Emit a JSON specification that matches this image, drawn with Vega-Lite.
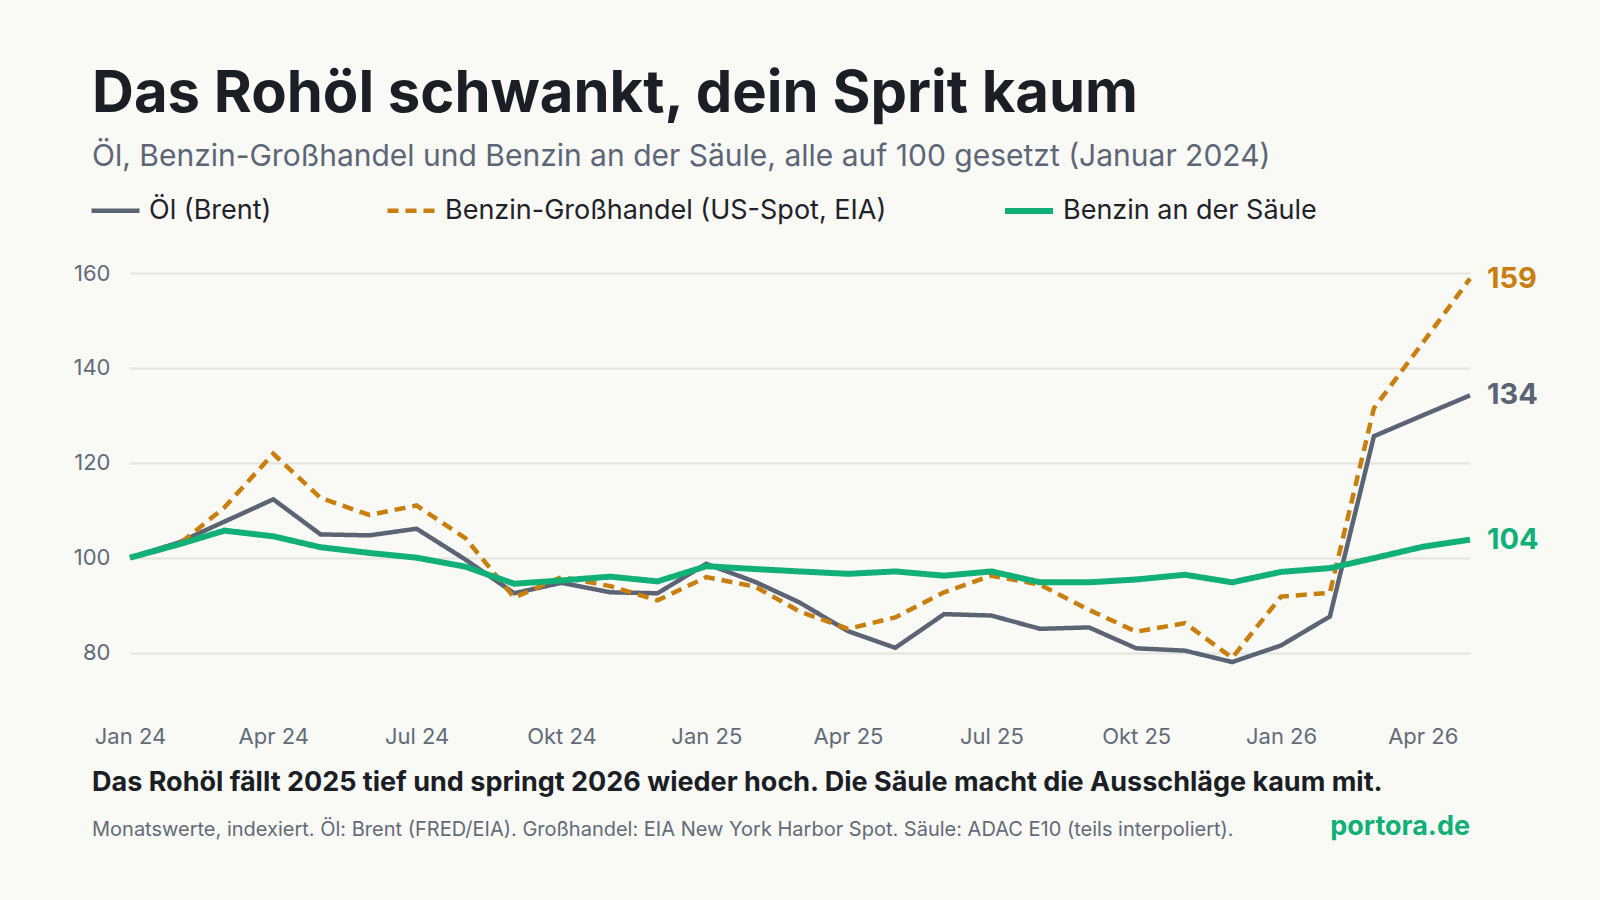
{
  "$schema": "https://vega.github.io/schema/vega-lite/v6.json",
  "autosize": {"type": "none"},
  "width": 1340,
  "height": 427,
  "padding": {"left": 130, "top": 273, "right": 130, "bottom": 200},
  "background": "#f9f9f6",
  "title": {
    "text": "Das Rohöl schwankt, dein Sprit kaum",
    "subtitle": "Öl, Benzin-Großhandel und Benzin an der Säule, alle auf 100 gesetzt (Januar 2024)",
    "anchor": "start",
    "frame": "group",
    "dx": -38,
    "offset": 12,
    "font": "Inter",
    "fontSize": 58,
    "fontWeight": "bold",
    "color": "#1b1e24",
    "subtitleFont": "Inter",
    "subtitleFontSize": 30,
    "subtitleColor": "#5d6677",
    "subtitlePadding": 18
  },
  "config": {
    "view": {"stroke": null},
    "font": "Inter"
  },
  "data": {
    "values": [
      {"date": "2024-01-01", "series": "Öl (Brent)", "value": 100},
      {"date": "2024-02-01", "series": "Öl (Brent)", "value": 103.2},
      {"date": "2024-03-01", "series": "Öl (Brent)", "value": 107.6},
      {"date": "2024-04-01", "series": "Öl (Brent)", "value": 112.3},
      {"date": "2024-05-01", "series": "Öl (Brent)", "value": 104.9},
      {"date": "2024-06-01", "series": "Öl (Brent)", "value": 104.7},
      {"date": "2024-07-01", "series": "Öl (Brent)", "value": 106.1},
      {"date": "2024-08-01", "series": "Öl (Brent)", "value": 99.6},
      {"date": "2024-09-01", "series": "Öl (Brent)", "value": 92.5},
      {"date": "2024-10-01", "series": "Öl (Brent)", "value": 94.7},
      {"date": "2024-11-01", "series": "Öl (Brent)", "value": 92.7},
      {"date": "2024-12-01", "series": "Öl (Brent)", "value": 92.5},
      {"date": "2025-01-01", "series": "Öl (Brent)", "value": 98.7},
      {"date": "2025-02-01", "series": "Öl (Brent)", "value": 94.9},
      {"date": "2025-03-01", "series": "Öl (Brent)", "value": 90.6},
      {"date": "2025-04-01", "series": "Öl (Brent)", "value": 84.5},
      {"date": "2025-05-01", "series": "Öl (Brent)", "value": 81.0},
      {"date": "2025-06-01", "series": "Öl (Brent)", "value": 88.1},
      {"date": "2025-07-01", "series": "Öl (Brent)", "value": 87.8},
      {"date": "2025-08-01", "series": "Öl (Brent)", "value": 85.0},
      {"date": "2025-09-01", "series": "Öl (Brent)", "value": 85.3},
      {"date": "2025-10-01", "series": "Öl (Brent)", "value": 80.9},
      {"date": "2025-11-01", "series": "Öl (Brent)", "value": 80.4},
      {"date": "2025-12-01", "series": "Öl (Brent)", "value": 78.0},
      {"date": "2026-01-01", "series": "Öl (Brent)", "value": 81.5},
      {"date": "2026-02-01", "series": "Öl (Brent)", "value": 87.6},
      {"date": "2026-03-01", "series": "Öl (Brent)", "value": 125.6},
      {"date": "2026-04-01", "series": "Öl (Brent)", "value": 130.0},
      {"date": "2026-05-01", "series": "Öl (Brent)", "value": 134.2},
      {"date": "2024-01-01", "series": "Benzin-Großhandel (US-Spot, EIA)", "value": 100},
      {"date": "2024-02-01", "series": "Benzin-Großhandel (US-Spot, EIA)", "value": 102.8},
      {"date": "2024-03-01", "series": "Benzin-Großhandel (US-Spot, EIA)", "value": 110.6},
      {"date": "2024-04-01", "series": "Benzin-Großhandel (US-Spot, EIA)", "value": 121.9},
      {"date": "2024-05-01", "series": "Benzin-Großhandel (US-Spot, EIA)", "value": 112.6},
      {"date": "2024-06-01", "series": "Benzin-Großhandel (US-Spot, EIA)", "value": 109.0},
      {"date": "2024-07-01", "series": "Benzin-Großhandel (US-Spot, EIA)", "value": 111.0},
      {"date": "2024-08-01", "series": "Benzin-Großhandel (US-Spot, EIA)", "value": 104.1},
      {"date": "2024-09-01", "series": "Benzin-Großhandel (US-Spot, EIA)", "value": 91.6},
      {"date": "2024-10-01", "series": "Benzin-Großhandel (US-Spot, EIA)", "value": 95.9},
      {"date": "2024-11-01", "series": "Benzin-Großhandel (US-Spot, EIA)", "value": 94.0},
      {"date": "2024-12-01", "series": "Benzin-Großhandel (US-Spot, EIA)", "value": 91.0},
      {"date": "2025-01-01", "series": "Benzin-Großhandel (US-Spot, EIA)", "value": 95.9},
      {"date": "2025-02-01", "series": "Benzin-Großhandel (US-Spot, EIA)", "value": 93.9},
      {"date": "2025-03-01", "series": "Benzin-Großhandel (US-Spot, EIA)", "value": 88.7},
      {"date": "2025-04-01", "series": "Benzin-Großhandel (US-Spot, EIA)", "value": 85.0},
      {"date": "2025-05-01", "series": "Benzin-Großhandel (US-Spot, EIA)", "value": 87.4},
      {"date": "2025-06-01", "series": "Benzin-Großhandel (US-Spot, EIA)", "value": 92.7},
      {"date": "2025-07-01", "series": "Benzin-Großhandel (US-Spot, EIA)", "value": 96.2},
      {"date": "2025-08-01", "series": "Benzin-Großhandel (US-Spot, EIA)", "value": 94.3},
      {"date": "2025-09-01", "series": "Benzin-Großhandel (US-Spot, EIA)", "value": 89.0},
      {"date": "2025-10-01", "series": "Benzin-Großhandel (US-Spot, EIA)", "value": 84.4},
      {"date": "2025-11-01", "series": "Benzin-Großhandel (US-Spot, EIA)", "value": 86.2},
      {"date": "2025-12-01", "series": "Benzin-Großhandel (US-Spot, EIA)", "value": 78.9},
      {"date": "2026-01-01", "series": "Benzin-Großhandel (US-Spot, EIA)", "value": 91.8},
      {"date": "2026-02-01", "series": "Benzin-Großhandel (US-Spot, EIA)", "value": 92.6},
      {"date": "2026-03-01", "series": "Benzin-Großhandel (US-Spot, EIA)", "value": 131.5},
      {"date": "2026-04-01", "series": "Benzin-Großhandel (US-Spot, EIA)", "value": 145.3},
      {"date": "2026-05-01", "series": "Benzin-Großhandel (US-Spot, EIA)", "value": 158.8},
      {"date": "2024-01-01", "series": "Benzin an der Säule", "value": 100},
      {"date": "2024-02-01", "series": "Benzin an der Säule", "value": 102.8},
      {"date": "2024-03-01", "series": "Benzin an der Säule", "value": 105.7},
      {"date": "2024-04-01", "series": "Benzin an der Säule", "value": 104.5},
      {"date": "2024-05-01", "series": "Benzin an der Säule", "value": 102.2},
      {"date": "2024-06-01", "series": "Benzin an der Säule", "value": 101.0},
      {"date": "2024-07-01", "series": "Benzin an der Säule", "value": 100.0},
      {"date": "2024-08-01", "series": "Benzin an der Säule", "value": 98.1},
      {"date": "2024-09-01", "series": "Benzin an der Säule", "value": 94.5},
      {"date": "2024-10-01", "series": "Benzin an der Säule", "value": 95.2},
      {"date": "2024-11-01", "series": "Benzin an der Säule", "value": 96.0},
      {"date": "2024-12-01", "series": "Benzin an der Säule", "value": 95.0},
      {"date": "2025-01-01", "series": "Benzin an der Säule", "value": 98.2},
      {"date": "2025-02-01", "series": "Benzin an der Säule", "value": 97.6},
      {"date": "2025-03-01", "series": "Benzin an der Säule", "value": 97.1},
      {"date": "2025-04-01", "series": "Benzin an der Säule", "value": 96.6},
      {"date": "2025-05-01", "series": "Benzin an der Säule", "value": 97.1},
      {"date": "2025-06-01", "series": "Benzin an der Säule", "value": 96.2},
      {"date": "2025-07-01", "series": "Benzin an der Säule", "value": 97.1},
      {"date": "2025-08-01", "series": "Benzin an der Säule", "value": 94.8},
      {"date": "2025-09-01", "series": "Benzin an der Säule", "value": 94.8},
      {"date": "2025-10-01", "series": "Benzin an der Säule", "value": 95.4},
      {"date": "2025-11-01", "series": "Benzin an der Säule", "value": 96.4},
      {"date": "2025-12-01", "series": "Benzin an der Säule", "value": 94.8},
      {"date": "2026-01-01", "series": "Benzin an der Säule", "value": 97.0},
      {"date": "2026-02-01", "series": "Benzin an der Säule", "value": 97.8},
      {"date": "2026-03-01", "series": "Benzin an der Säule", "value": 99.9},
      {"date": "2026-04-01", "series": "Benzin an der Säule", "value": 102.3},
      {"date": "2026-05-01", "series": "Benzin an der Säule", "value": 103.8}
    ]
  },
  "layer": [
    {
      "mark": {"type": "line", "strokeJoin": "miter"},
      "encoding": {
        "x": {
          "field": "date",
          "type": "temporal",
          "scale": {"type": "utc", "nice": false, "domain": [{"year": 2024, "month": 1, "date": 1, "utc": true}, {"year": 2026, "month": 5, "date": 1, "utc": true}]},
          "axis": {
            "title": null,
            "grid": false,
            "domain": false,
            "ticks": false,
            "tickSize": 0,
            "labelFlush": false,
            "labelPadding": 26,
            "labelFont": "Inter",
            "labelFontSize": 22,
            "labelColor": "#636b78",
            "tickCount": {"interval": "month", "step": 3},
            "labelExpr": "['Jan','Feb','Mär','Apr','Mai','Jun','Jul','Aug','Sep','Okt','Nov','Dez'][utcmonth(datum.value)] + ' ' + utcFormat(datum.value, '%y')"
          }
        },
        "y": {
          "field": "value",
          "type": "quantitative",
          "scale": {"domain": [70, 160], "nice": false, "zero": false},
          "axis": {
            "title": null,
            "values": [80, 100, 120, 140, 160],
            "grid": true,
            "gridColor": "#e4e4df",
            "gridWidth": 2,
            "domain": false,
            "ticks": false,
            "tickSize": 0,
            "labelPadding": 20,
            "labelFont": "Inter",
            "labelFontSize": 22,
            "labelColor": "#636b78"
          }
        },
        "color": {
          "field": "series",
          "type": "nominal",
          "scale": {
            "domain": ["Öl (Brent)", "Benzin-Großhandel (US-Spot, EIA)", "Benzin an der Säule"],
            "range": ["#5b6474", "#c97f0e", "#10b078"]
          },
          "legend": {
            "title": null,
            "orient": "none",
            "legendX": -41,
            "legendY": -89,
            "direction": "horizontal",
            "padding": 0,
            "symbolType": "stroke",
            "symbolSize": 2304,
            "symbolStrokeWidth": 5,
            "labelOffset": 7,
            "columnPadding": 106,
            "labelFont": "Inter",
            "labelFontSize": 27,
            "labelColor": "#1f2329",
            "labelLimit": 800,
            "encode": {"symbols": {"update": {"strokeWidth": {"value": 5}}}}
          }
        },
        "strokeDash": {
          "field": "series",
          "type": "nominal",
          "scale": {
            "domain": ["Öl (Brent)", "Benzin-Großhandel (US-Spot, EIA)", "Benzin an der Säule"],
            "range": [[1, 0], [11, 7], [1, 0]]
          },
          "legend": {
            "title": null,
            "orient": "none",
            "legendX": -41,
            "legendY": -89,
            "direction": "horizontal",
            "padding": 0,
            "symbolType": "stroke",
            "symbolSize": 2304,
            "symbolStrokeWidth": 5,
            "labelOffset": 7,
            "columnPadding": 106,
            "labelFont": "Inter",
            "labelFontSize": 27,
            "labelColor": "#1f2329",
            "labelLimit": 800,
            "encode": {"symbols": {"update": {"strokeWidth": {"value": 5}}}}
          }
        },
        "strokeWidth": {
          "field": "series",
          "type": "nominal",
          "scale": {
            "type": "ordinal",
            "domain": ["Öl (Brent)", "Benzin-Großhandel (US-Spot, EIA)", "Benzin an der Säule"],
            "range": [4.5, 4.5, 6]
          },
          "legend": null
        }
      }
    },
    {
      "transform": [{"filter": "utcyear(datum.date) == 2026 && utcmonth(datum.date) == 4"}],
      "mark": {"type": "text", "align": "left", "baseline": "middle", "dx": 17, "font": "Inter", "fontSize": 29, "fontWeight": "bold"},
      "encoding": {
        "x": {"field": "date", "type": "temporal"},
        "y": {"field": "value", "type": "quantitative"},
        "text": {"field": "value", "type": "quantitative", "format": ".0f"},
        "color": {"field": "series", "type": "nominal", "legend": null}
      }
    },
    {
      "data": {"values": [{"note": "Das Rohöl fällt 2025 tief und springt 2026 wieder hoch. Die Säule macht die Ausschläge kaum mit."}]},
      "mark": {"type": "text", "align": "left", "baseline": "middle", "dx": -38, "font": "Inter", "fontSize": 27, "fontWeight": "bold", "color": "#1b1e24"},
      "encoding": {
        "x": {"datum": {"year": 2024, "month": 1, "date": 1, "utc": true}, "type": "temporal"},
        "y": {"datum": 52.6, "type": "quantitative"},
        "text": {"field": "note", "type": "nominal"}
      }
    },
    {
      "data": {"values": [{"note": "Monatswerte, indexiert. Öl: Brent (FRED/EIA). Großhandel: EIA New York Harbor Spot. Säule: ADAC E10 (teils interpoliert)."}]},
      "mark": {"type": "text", "align": "left", "baseline": "middle", "dx": -38, "font": "Inter", "fontSize": 20, "color": "#636b78"},
      "encoding": {
        "x": {"datum": {"year": 2024, "month": 1, "date": 1, "utc": true}, "type": "temporal"},
        "y": {"datum": 42.6, "type": "quantitative"},
        "text": {"field": "note", "type": "nominal"}
      }
    },
    {
      "data": {"values": [{"note": "portora.de"}]},
      "mark": {"type": "text", "align": "right", "baseline": "middle", "font": "Inter", "fontSize": 27, "fontWeight": "bold", "color": "#10b078"},
      "encoding": {
        "x": {"datum": {"year": 2026, "month": 5, "date": 1, "utc": true}, "type": "temporal"},
        "y": {"datum": 43.2, "type": "quantitative"},
        "text": {"field": "note", "type": "nominal"}
      }
    }
  ]
}
